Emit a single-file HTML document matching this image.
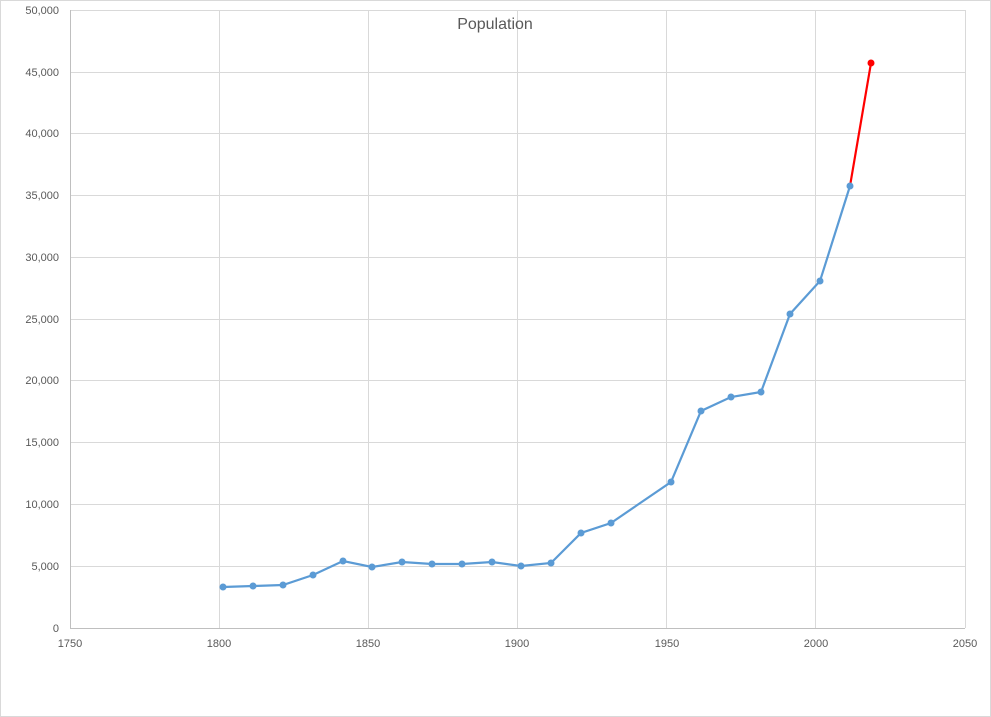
<!DOCTYPE html>
<html><head><style>
html,body{margin:0;padding:0;background:#fff;}
svg{display:block;font-family:"Liberation Sans",sans-serif;}
</style></head><body>
<svg width="991" height="717" viewBox="0 0 991 717">
<rect x="0.5" y="0.5" width="990" height="716" fill="#fff" stroke="#d9d9d9"/>
<g stroke="#d9d9d9" stroke-width="1">
<line x1="70" y1="10.5" x2="965" y2="10.5"/>
<line x1="70" y1="72.5" x2="965" y2="72.5"/>
<line x1="70" y1="133.5" x2="965" y2="133.5"/>
<line x1="70" y1="195.5" x2="965" y2="195.5"/>
<line x1="70" y1="257.5" x2="965" y2="257.5"/>
<line x1="70" y1="319.5" x2="965" y2="319.5"/>
<line x1="70" y1="380.5" x2="965" y2="380.5"/>
<line x1="70" y1="442.5" x2="965" y2="442.5"/>
<line x1="70" y1="504.5" x2="965" y2="504.5"/>
<line x1="70" y1="566.5" x2="965" y2="566.5"/>
<line x1="219.5" y1="10" x2="219.5" y2="628"/>
<line x1="368.5" y1="10" x2="368.5" y2="628"/>
<line x1="517.5" y1="10" x2="517.5" y2="628"/>
<line x1="666.5" y1="10" x2="666.5" y2="628"/>
<line x1="815.5" y1="10" x2="815.5" y2="628"/>
<line x1="965.5" y1="10" x2="965.5" y2="628"/>
</g>
<g stroke="#bfbfbf"><line x1="70.5" y1="10" x2="70.5" y2="628"/><line x1="70" y1="628.5" x2="965" y2="628.5"/></g>
<g font-size="11" fill="#595959" text-anchor="end">
<text x="59" y="14">50,000</text><text x="59" y="76">45,000</text><text x="59" y="137">40,000</text>
<text x="59" y="199">35,000</text><text x="59" y="261">30,000</text><text x="59" y="323">25,000</text>
<text x="59" y="384">20,000</text><text x="59" y="446">15,000</text><text x="59" y="508">10,000</text>
<text x="59" y="570">5,000</text><text x="59" y="632">0</text>
</g>
<g font-size="11" fill="#595959" text-anchor="middle">
<text x="70" y="647">1750</text><text x="219" y="647">1800</text><text x="368" y="647">1850</text>
<text x="517" y="647">1900</text><text x="667" y="647">1950</text><text x="816" y="647">2000</text><text x="965" y="647">2050</text>
</g>
<text x="495" y="29" font-size="16" fill="#595959" text-anchor="middle">Population</text>
<polyline fill="none" stroke="#ff0000" stroke-width="2.2" points="850,186 871,63"/>
<polyline fill="none" stroke="#5b9bd5" stroke-width="2.2" points="223,587 253,586 283,585 313,575 343,561 372,567 402,562 432,564 462,564 492,562 521,566 551,563 581,533 611,523 671,482 701,411 731,397 761,392 790,314 820,281 850,186"/>
<g fill="#5b9bd5">
<circle cx="223" cy="587" r="3.5"/><circle cx="253" cy="586" r="3.5"/><circle cx="283" cy="585" r="3.5"/>
<circle cx="313" cy="575" r="3.5"/><circle cx="343" cy="561" r="3.5"/><circle cx="372" cy="567" r="3.5"/>
<circle cx="402" cy="562" r="3.5"/><circle cx="432" cy="564" r="3.5"/><circle cx="462" cy="564" r="3.5"/>
<circle cx="492" cy="562" r="3.5"/><circle cx="521" cy="566" r="3.5"/><circle cx="551" cy="563" r="3.5"/>
<circle cx="581" cy="533" r="3.5"/><circle cx="611" cy="523" r="3.5"/><circle cx="671" cy="482" r="3.5"/>
<circle cx="701" cy="411" r="3.5"/><circle cx="731" cy="397" r="3.5"/><circle cx="761" cy="392" r="3.5"/>
<circle cx="790" cy="314" r="3.5"/><circle cx="820" cy="281" r="3.5"/><circle cx="850" cy="186" r="3.5"/>
</g>
<circle cx="871" cy="63" r="3.5" fill="#ff0000"/>
</svg>
</body></html>
